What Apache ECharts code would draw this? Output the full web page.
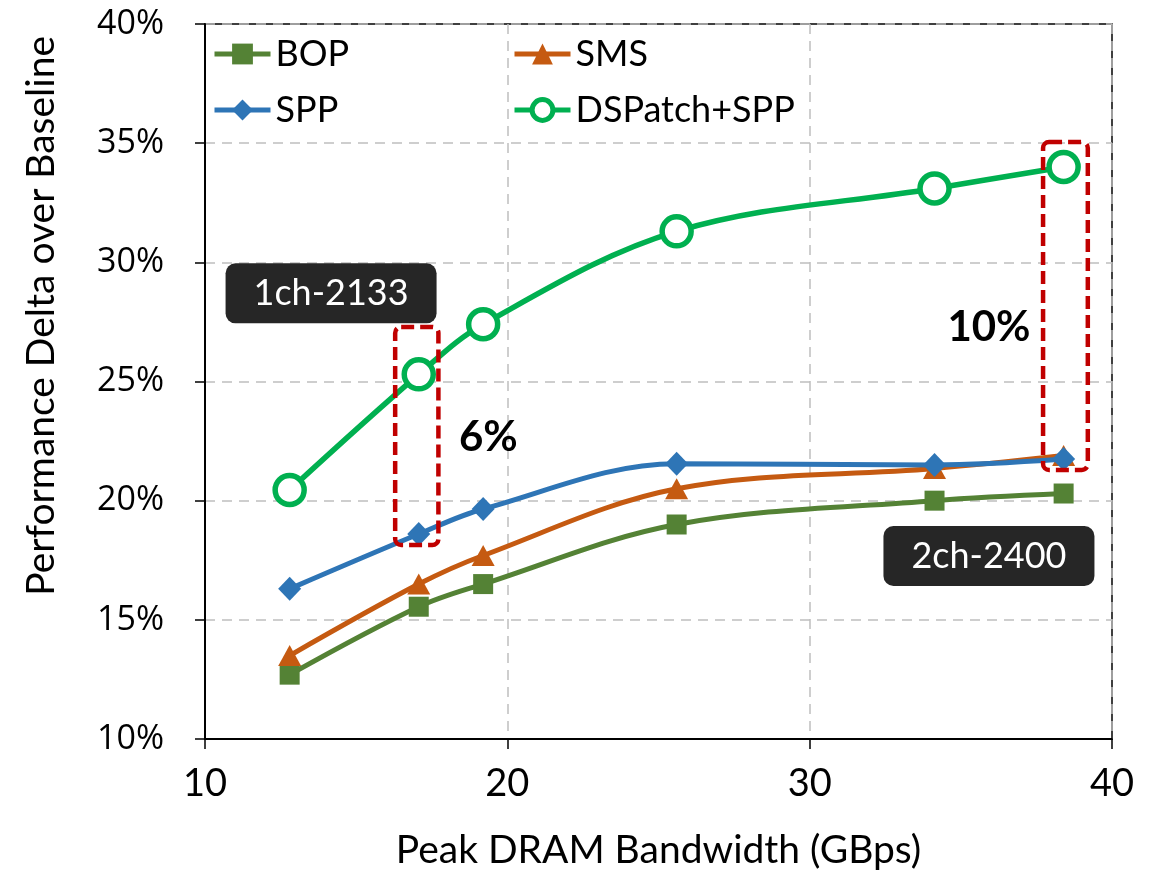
<!DOCTYPE html>
<html>
<head>
<meta charset="utf-8">
<script src="https://cdn.jsdelivr.net/npm/echarts@6/dist/echarts.min.js"></script>
<style>
  html, body { margin: 0; padding: 0; background: #fff; }
  #chart { width: 1160px; height: 872px; }
</style>
</head>
<body>
<div id="chart"></div>
<script>
// Peak DRAM bandwidth (GBps) for each memory configuration
const bandwidth = [12.8, 17.07, 19.2, 25.6, 34.13, 38.4];

// Performance delta over baseline (%)
const bop     = [12.7, 15.55, 16.5, 19.0, 20.0, 20.3];
const sms     = [13.5, 16.5, 17.7, 20.5, 21.35, 21.9];
const spp     = [16.3, 18.6, 19.65, 21.55, 21.5, 21.75];
const dspatch = [20.45, 25.3, 27.4, 31.3, 33.1, 34.0];

// Callouts: configuration tags and improvement labels
const configTags = [
  { text: '1ch-2133', x: 14.17, y: 28.7 },
  { text: '2ch-2400', x: 35.93, y: 17.68 }
];
const gainLabels = [
  { text: '6%',  x: 19.37, y: 22.67 },
  { text: '10%', x: 35.93, y: 27.25 }
];
// Highlight boxes spanning SPP -> DSPatch+SPP at a given bandwidth
const highlightBoxes = [
  { x0: 16.29, x1: 17.72, y0: 18.14, y1: 27.29 },
  { x0: 37.72, x1: 39.2,  y0: 21.29, y1: 35.05 }
];

const pairs = (ys) => bandwidth.map((x, i) => [x, ys[i]]);

const FONT = 'Lato';
const TICK_FONT = 'Open Sans';

const chart = echarts.init(document.getElementById('chart'), null, { renderer: 'canvas' });

function legendAt(name, left, top, ring) {
  return {
    data: [name],
    left: left,
    top: top,
    itemWidth: 56,
    itemHeight: 26,
    itemGap: 0,
    padding: 0,
    lineStyle: { width: 5 },
    itemStyle: ring ? { borderWidth: 5 } : {},
    textStyle: { fontFamily: FONT, fontSize: 36, color: '#000' },
    selectedMode: false
  };
}

const option = {
  backgroundColor: '#fff',
  animation: false,
  grid: {
    left: 205, right: 48, top: 24, bottom: 133,
    outerBoundsMode: 'none',
    show: true, borderColor: '#000', borderWidth: 1.5
  },
  legend: [
    legendAt('BOP', 212, 36),
    legendAt('SMS', 512, 36),
    legendAt('SPP', 212, 92),
    legendAt('DSPatch+SPP', 512, 92, true)
  ],
  xAxis: {
    type: 'value',
    min: 10, max: 40, interval: 10,
    name: 'Peak DRAM Bandwidth (GBps)',
    nameLocation: 'middle',
    nameGap: 92,
    nameTextStyle: { fontFamily: FONT, fontSize: 39, color: '#000' },
    axisLine: { lineStyle: { color: '#000', width: 2 } },
    axisTick: { show: true, inside: false, length: 10, lineStyle: { color: '#000', width: 1.5 } },
    axisLabel: { fontFamily: FONT, fontSize: 38, color: '#000', margin: 26 },
    splitLine: { show: true, lineStyle: { color: '#bfbfbf', type: [10, 7], width: 1.5 } }
  },
  yAxis: {
    type: 'value',
    min: 10, max: 40, interval: 5,
    axisLine: { show: true, lineStyle: { color: '#000', width: 2 } },
    axisTick: { show: true, inside: false, length: 10, lineStyle: { color: '#000', width: 1.5 } },
    axisLabel: { fontFamily: TICK_FONT, fontSize: 34, color: '#000', margin: 41, formatter: '{value}%' },
    splitLine: { show: true, lineStyle: { color: '#bfbfbf', type: [10, 7], width: 1.5 } }
  },
  series: [
    {
      name: 'BOP', type: 'line', data: pairs(bop), smooth: 0.35,
      symbol: 'rect', symbolSize: 20,
      lineStyle: { color: '#548235', width: 5 },
      itemStyle: { color: '#548235' }, z: 2
    },
    {
      name: 'SMS', type: 'line', data: pairs(sms), smooth: 0.35,
      symbol: 'triangle', symbolSize: [23, 21],
      lineStyle: { color: '#C55A11', width: 5 },
      itemStyle: { color: '#C55A11' }, z: 3
    },
    {
      name: 'SPP', type: 'line', data: pairs(spp), smooth: 0.35,
      symbol: 'diamond', symbolSize: [23, 24],
      lineStyle: { color: '#2E75B6', width: 5 },
      itemStyle: { color: '#2E75B6' }, z: 4
    },
    {
      name: 'DSPatch+SPP', type: 'line', data: pairs(dspatch), smooth: 0.35,
      symbol: 'circle', symbolSize: 29, showAllSymbol: true,
      lineStyle: { color: '#00B050', width: 5.5 },
      itemStyle: { color: '#fff', borderColor: '#00B050', borderWidth: 5.5 }, z: 5
    }
  ]
};

chart.setOption(option);

// Place annotations in data space via the chart's own coordinate conversion
function toPx(x, y) {
  return chart.convertToPixel({ gridIndex: 0 }, [x, y]);
}

const graphics = [];

// Vertical axis title
graphics.push({
  type: 'text',
  left: 22, top: 36,
  rotation: Math.PI / 2,
  style: {
    text: 'Performance Delta over Baseline',
    fontFamily: FONT, fontSize: 39, fill: '#000'
  }
});

highlightBoxes.forEach((b) => {
  const p0 = toPx(b.x0, b.y1);
  const p1 = toPx(b.x1, b.y0);
  graphics.push({
    type: 'rect', z: 100,
    shape: { x: p0[0], y: p0[1], width: p1[0] - p0[0], height: p1[1] - p0[1], r: 6 },
    style: { fill: 'none', stroke: '#C00000', lineWidth: 4.5, lineDash: [13, 6] }
  });
});

configTags.forEach((t) => {
  const c = toPx(t.x, t.y);
  const w = 211, h = 60;
  graphics.push({
    type: 'group', z: 90,
    children: [
      { type: 'rect', shape: { x: c[0] - w / 2, y: c[1] - h / 2, width: w, height: h, r: 10 },
        style: { fill: '#262626' } },
      { type: 'text', x: c[0], y: c[1],
        style: { text: t.text, fontFamily: FONT, fontSize: 36, fill: '#fff', align: 'center', verticalAlign: 'middle' } }
    ]
  });
});

gainLabels.forEach((t) => {
  const c = toPx(t.x, t.y);
  graphics.push({
    type: 'text', z: 95, x: c[0], y: c[1],
    style: { text: t.text, fontFamily: FONT, fontWeight: 'bold', fontSize: 42, fill: '#000', align: 'center', verticalAlign: 'middle' }
  });
});

chart.setOption({ graphic: graphics });
</script>
</body>
</html>
